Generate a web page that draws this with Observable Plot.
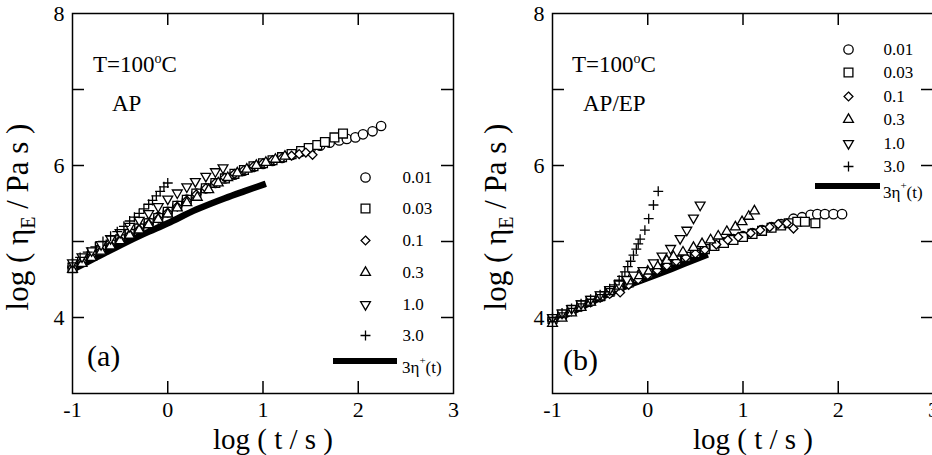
<!DOCTYPE html>
<html>
<head>
<meta charset="utf-8">
<script src="https://cdn.jsdelivr.net/npm/d3@7"></script>
<script src="https://cdn.jsdelivr.net/npm/@observablehq/plot@0.6"></script>
<style>
  html, body { margin: 0; padding: 0; background: #fff; }
  body { width: 932px; height: 455px; overflow: hidden; }
  #wrap { display: flex; flex-wrap: nowrap; width: 960px; }
  #wrap > div { width: 480px; flex: 0 0 480px; }
</style>
</head>
<body>
<div id="wrap"><div id="pa"></div><div id="pb"></div></div>
<script>
// ---------- data (log t / s, log eta_E / Pa s) ----------
const strainRates = ["0.01", "0.03", "0.1", "0.3", "1.0", "3.0"];
const xTickLabels = [-1, 0, 1, 2, 3];
const xTickMarks = [0, 1, 2];
const yTickLabels = [4, 6, 8];
const yTickMarks = [4, 5, 6, 7];

// Panel (a) AP
const apRate001 = [[-1.00,4.66],[-0.90,4.74],[-0.80,4.82],[-0.70,4.90],[-0.60,4.97],[-0.50,5.04],[-0.40,5.11],[-0.30,5.18],[-0.20,5.25],[-0.10,5.32],[0.00,5.39],[0.10,5.47],[0.20,5.55],[0.30,5.63],[0.40,5.70],[0.50,5.77],[0.60,5.83],[0.70,5.88],[0.80,5.93],[0.90,5.98],[1.00,6.02],[1.10,6.06],[1.20,6.10],[1.30,6.14],[1.40,6.18],[1.50,6.22],[1.60,6.26],[1.70,6.30],[1.80,6.33],[1.88,6.35],[1.97,6.37],[2.05,6.41],[2.15,6.45],[2.24,6.52]];
const apRate003 = [[-1.00,4.65],[-0.90,4.73],[-0.80,4.81],[-0.70,4.89],[-0.60,4.96],[-0.50,5.03],[-0.40,5.10],[-0.30,5.17],[-0.20,5.24],[-0.10,5.31],[0.00,5.39],[0.10,5.47],[0.20,5.55],[0.30,5.63],[0.40,5.70],[0.50,5.77],[0.60,5.83],[0.70,5.89],[0.80,5.94],[0.90,5.99],[1.00,6.03],[1.10,6.07],[1.20,6.11],[1.30,6.15],[1.40,6.19],[1.48,6.23],[1.57,6.27],[1.65,6.31],[1.75,6.37],[1.84,6.42]];
const apRate01 = [[-1.00,4.66],[-0.90,4.74],[-0.80,4.81],[-0.70,4.88],[-0.60,4.95],[-0.50,5.02],[-0.40,5.09],[-0.30,5.16],[-0.20,5.23],[-0.10,5.30],[0.00,5.38],[0.10,5.46],[0.20,5.54],[0.30,5.62],[0.40,5.70],[0.50,5.77],[0.60,5.84],[0.70,5.89],[0.80,5.94],[0.90,5.99],[1.00,6.03],[1.10,6.07],[1.20,6.10],[1.30,6.13],[1.38,6.15],[1.45,6.17],[1.52,6.14]];
const apRate03 = [[-1.00,4.63],[-0.90,4.71],[-0.80,4.79],[-0.70,4.87],[-0.60,4.94],[-0.50,5.01],[-0.40,5.08],[-0.30,5.15],[-0.20,5.22],[-0.10,5.29],[0.00,5.36],[0.10,5.44],[0.20,5.51],[0.31,5.58],[0.43,5.68],[0.53,5.77],[0.63,5.84],[0.73,5.90],[0.83,5.95],[0.93,6.00],[1.03,6.04],[1.13,6.08],[1.23,6.12]];
const apRate1 = [[-1.00,4.72],[-0.90,4.80],[-0.80,4.88],[-0.70,4.96],[-0.60,5.04],[-0.50,5.12],[-0.40,5.20],[-0.30,5.28],[-0.20,5.37],[-0.10,5.46],[0.00,5.56],[0.10,5.64],[0.20,5.72],[0.29,5.79],[0.40,5.86],[0.50,5.92],[0.58,5.97]];
const apRate3 = [[-1.00,4.72],[-0.92,4.79],[-0.84,4.86],[-0.76,4.93],[-0.68,5.00],[-0.60,5.07],[-0.53,5.13],[-0.46,5.20],[-0.40,5.27],[-0.35,5.32],[-0.30,5.37],[-0.25,5.43],[-0.20,5.49],[-0.16,5.54],[-0.12,5.60],[-0.08,5.66],[-0.04,5.72],[0.00,5.77]];
const apLVE = [[-1.00,4.63],[-0.75,4.79],[-0.50,4.95],[-0.25,5.10],[0.00,5.24],[0.30,5.42],[0.60,5.57],[0.80,5.66],[1.03,5.76]];

// Panel (b) AP/EP
const apepRate001 = [[-1.00,3.97],[-0.90,4.03],[-0.80,4.09],[-0.70,4.15],[-0.60,4.21],[-0.50,4.27],[-0.40,4.33],[-0.30,4.39],[-0.20,4.45],[-0.10,4.51],[0.00,4.57],[0.10,4.63],[0.20,4.69],[0.30,4.75],[0.40,4.80],[0.50,4.85],[0.60,4.90],[0.70,4.95],[0.80,4.99],[0.90,5.03],[1.00,5.07],[1.10,5.11],[1.20,5.15],[1.30,5.19],[1.40,5.23],[1.53,5.30],[1.62,5.32],[1.71,5.35],[1.78,5.36],[1.86,5.36],[1.95,5.36],[2.04,5.36]];
const apepRate003 = [[-1.00,3.98],[-0.90,4.04],[-0.80,4.10],[-0.70,4.16],[-0.60,4.22],[-0.50,4.28],[-0.40,4.34],[-0.30,4.40],[-0.20,4.46],[-0.10,4.52],[0.00,4.58],[0.10,4.64],[0.20,4.70],[0.30,4.75],[0.40,4.80],[0.50,4.85],[0.60,4.90],[0.70,4.94],[0.80,4.98],[0.90,5.02],[1.00,5.06],[1.10,5.10],[1.20,5.14],[1.30,5.18],[1.40,5.21],[1.48,5.24],[1.57,5.26],[1.65,5.26],[1.76,5.24]];
const apepRate01 = [[-1.00,3.96],[-0.90,4.02],[-0.80,4.08],[-0.70,4.14],[-0.60,4.20],[-0.50,4.26],[-0.40,4.31],[-0.29,4.33],[-0.20,4.43],[-0.10,4.50],[0.00,4.56],[0.10,4.62],[0.20,4.68],[0.30,4.74],[0.40,4.79],[0.50,4.84],[0.60,4.89],[0.72,4.96],[0.84,5.02],[0.95,5.06],[1.08,5.11],[1.18,5.15],[1.28,5.19],[1.37,5.23],[1.46,5.24],[1.53,5.17]];
const apepRate03 = [[-1.00,3.92],[-0.90,3.99],[-0.80,4.06],[-0.70,4.13],[-0.60,4.20],[-0.50,4.27],[-0.40,4.34],[-0.30,4.41],[-0.20,4.48],[-0.10,4.55],[0.00,4.61],[0.10,4.68],[0.20,4.75],[0.27,4.80],[0.37,4.86],[0.48,4.92],[0.57,4.97],[0.66,5.02],[0.74,5.07],[0.83,5.13],[0.92,5.19],[0.99,5.26],[1.06,5.33],[1.12,5.40]];
const apepRate1 = [[-1.00,4.00],[-0.90,4.06],[-0.80,4.12],[-0.70,4.18],[-0.60,4.24],[-0.50,4.30],[-0.40,4.37],[-0.30,4.44],[-0.22,4.50],[-0.15,4.56],[-0.05,4.62],[0.06,4.72],[0.15,4.81],[0.24,4.91],[0.34,5.04],[0.41,5.15],[0.48,5.31],[0.55,5.48]];
const apepRate3 = [[-1.00,4.00],[-0.90,4.06],[-0.80,4.12],[-0.70,4.18],[-0.60,4.24],[-0.50,4.30],[-0.45,4.34],[-0.40,4.38],[-0.35,4.43],[-0.30,4.49],[-0.27,4.54],[-0.24,4.60],[-0.21,4.67],[-0.18,4.74],[-0.15,4.82],[-0.12,4.90],[-0.10,4.97],[-0.08,5.03],[-0.03,5.15],[0.01,5.30],[0.06,5.48],[0.11,5.66]];
const apepLVE = [[-1.00,3.95],[-0.75,4.10],[-0.50,4.26],[-0.25,4.40],[0.00,4.52],[0.25,4.64],[0.45,4.74],[0.63,4.83]];

// ---------- styles ----------
const triangleDown = {
  draw(context, size) {
    const s = Math.sqrt(size) * 0.6824, t = s / 2, u = s * Math.sqrt(3) / 2;
    context.moveTo(0, s);
    context.lineTo(u, -t);
    context.lineTo(-u, -t);
    context.closePath();
  }
};
const seriesStyle = [
  {symbol: "circle", r: 4.7},
  {symbol: "square2", r: 5.6},
  {symbol: "diamond2", r: 4.0},
  {symbol: "triangle2", r: 4.7},
  {symbol: triangleDown, r: 4.7},
  {symbol: "plus", r: 3.3}
];
const FONT = "'Liberation Serif', 'Times New Roman', serif";
const W = 480, H = 455, ML = 72, MR = 27, MT = 13, MB = 62;
const FW = W - ML - MR, FH = H - MT - MB;
const fmt = d => d < 0 ? "-" + Math.abs(d) : String(d);

function makePanel(cfg) {
  const dotMarks = cfg.series.map((pts, i) => Plot.dot(pts, {
    x: d => d[0], y: d => d[1],
    symbol: seriesStyle[i].symbol, r: seriesStyle[i].r,
    stroke: "black", fill: "white", strokeWidth: 1.3
  }));
  const legendDots = strainRates.map((rate, i) => Plot.dot([rate], {
    frameAnchor: "top-left", dx: cfg.legend.sx, dy: cfg.legend.rows[i],
    symbol: seriesStyle[i].symbol, r: seriesStyle[i].r,
    stroke: "black", fill: "white", strokeWidth: 1.3
  }));
  const legendText = strainRates.map((rate, i) => Plot.text([rate], {
    frameAnchor: "top-left", dx: cfg.legend.tx, dy: cfg.legend.rows[i],
    text: d => d, textAnchor: "start", lineAnchor: "middle",
    fontSize: 17, fill: "black"
  }));
  const chart = Plot.plot({
    width: W, height: H,
    marginLeft: ML, marginRight: MR, marginTop: MT, marginBottom: MB,
    x: {domain: [-1, 3]},
    y: {domain: [3, 8]},
    style: {fontFamily: FONT, maxWidth: "none", background: "white", overflow: "visible", color: "black"},
    marks: [
      Plot.line(cfg.lve, {x: d => d[0], y: d => d[1], stroke: "black", strokeWidth: 6.5, strokeLinecap: "butt", curve: "monotone-x"}),
      ...dotMarks,
      Plot.ruleX(xTickMarks, {insetTop: FH - 12, stroke: "black", strokeWidth: 1.5}),
      Plot.ruleX(xTickMarks, {insetBottom: FH - 12, stroke: "black", strokeWidth: 1.5}),
      Plot.ruleY(yTickMarks, {insetRight: FW - 12, stroke: "black", strokeWidth: 1.5}),
      Plot.ruleY(yTickMarks, {insetLeft: FW - 12, stroke: "black", strokeWidth: 1.5}),
      Plot.axisX({ticks: xTickLabels, tickSize: 0, tickPadding: 8, fontSize: 22, tickFormat: fmt, label: null}),
      Plot.axisY({ticks: yTickLabels, tickSize: 0, tickPadding: 8, fontSize: 22, tickFormat: fmt, label: null}),
      Plot.text(["log ( t / s )"], {frameAnchor: "bottom", dx: 10, dy: 55, text: d => d, fontSize: 29, lineAnchor: "bottom", fill: "black"}),
      Plot.frame({stroke: "black", strokeWidth: 1.5}),
      ...legendDots,
      ...legendText
    ]
  });
  const svg = d3.select(chart);
  // y-axis title with subscript
  const yl = svg.append("text")
    .attr("transform", `translate(${cfg.ylabelX},217) rotate(-90)`)
    .attr("text-anchor", "middle").attr("font-size", 31).attr("fill", "black");
  yl.append("tspan").text("log ( η");
  yl.append("tspan").attr("font-size", 20).attr("dy", 7).text("E");
  yl.append("tspan").attr("dy", -7).text(" / Pa s )");
  // temperature
  const tt = svg.append("text").attr("x", cfg.tempX).attr("y", 72).attr("text-anchor", "start").attr("font-size", 23).attr("fill", "black");
  tt.append("tspan").text("T=100");
  tt.append("tspan").attr("font-size", 14).attr("dy", -9).text("o");
  tt.append("tspan").attr("dy", 9).text("C");
  svg.append("text").attr("x", cfg.nameX).attr("y", 111).attr("text-anchor", "start").attr("font-size", 23).attr("fill", "black").text(cfg.name);
  svg.append("text").attr("x", cfg.tagX).attr("y", cfg.tagY).attr("text-anchor", "start").attr("font-size", 30).attr("fill", "black").text(cfg.tag);
  // legend line entry
  const ly = MT + cfg.legend.lineY;
  svg.append("line").attr("x1", cfg.legend.lx1).attr("x2", cfg.legend.lx2).attr("y1", ly).attr("y2", ly)
    .attr("stroke", "black").attr("stroke-width", 6);
  const lt = svg.append("text").attr("x", ML + cfg.legend.tx).attr("y", ly + 12).attr("text-anchor", "start").attr("font-size", 17).attr("fill", "black");
  lt.append("tspan").text("3η");
  lt.append("tspan").attr("font-size", 11).attr("dy", -9).text("+");
  lt.append("tspan").attr("dy", 9).text("(t)");
  return chart;
}

document.getElementById("pa").appendChild(makePanel({
  series: [apRate001, apRate003, apRate01, apRate03, apRate1, apRate3],
  lve: apLVE,
  legend: {sx: 293, tx: 330, rows: [164, 195, 227, 259, 291, 322], lineY: 348, lx1: 333, lx2: 397},
  ylabelX: 28, tempX: 93, nameX: 112, name: "AP", tagX: 87, tagY: 366, tag: "(a)"
}));
document.getElementById("pb").appendChild(makePanel({
  series: [apepRate001, apepRate003, apepRate01, apepRate03, apepRate1, apepRate3],
  lve: apepLVE,
  legend: {sx: 296, tx: 331, rows: [36, 59, 83, 106, 130, 153], lineY: 173, lx1: 335, lx2: 400},
  ylabelX: 26, tempX: 92, nameX: 103, name: "AP/EP", tagX: 83, tagY: 370, tag: "(b)"
}));
</script>
</body>
</html>
